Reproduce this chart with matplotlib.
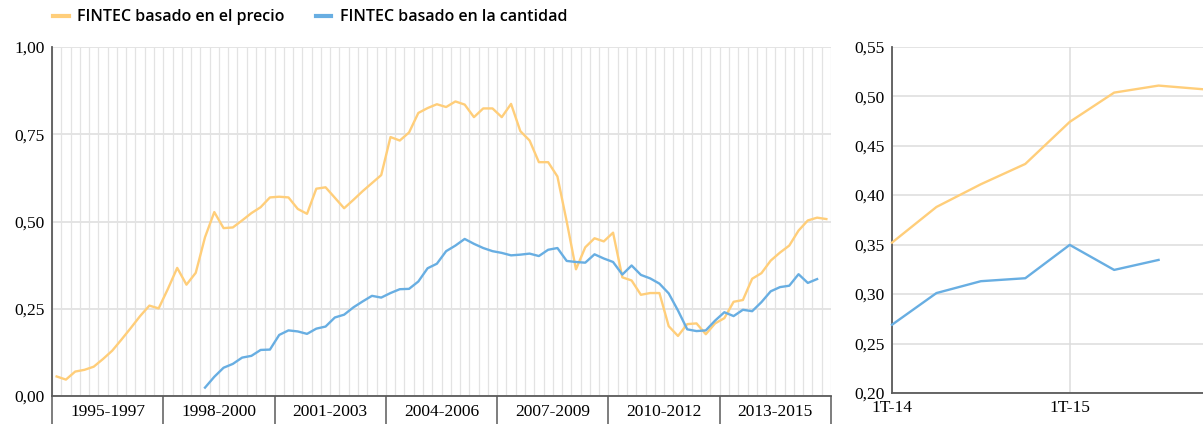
import numpy as np
import matplotlib
matplotlib.use("Agg")
import matplotlib.pyplot as plt
from matplotlib.lines import Line2D

# --- datos (trimestrales, 1T-1995 .. 4T-2015) ---
periodos = ["1995-1997", "1998-2000", "2001-2003", "2004-2006",
            "2007-2009", "2010-2012", "2013-2015"]

precio = [0.056, 0.047, 0.070, 0.075, 0.084, 0.106, 0.130, 0.162, 0.195, 0.229,
          0.259, 0.251, 0.307, 0.367, 0.319, 0.353, 0.455, 0.527, 0.481, 0.483,
          0.503, 0.524, 0.541, 0.569, 0.571, 0.569, 0.536, 0.522, 0.594, 0.598,
          0.568, 0.538, 0.562, 0.587, 0.610, 0.633, 0.742, 0.732, 0.755, 0.811,
          0.825, 0.836, 0.828, 0.844, 0.835, 0.799, 0.824, 0.824, 0.799, 0.837,
          0.759, 0.732, 0.670, 0.670, 0.629, 0.500, 0.363, 0.426, 0.452, 0.443,
          0.468, 0.340, 0.331, 0.290, 0.295, 0.295, 0.200, 0.172, 0.206, 0.208,
          0.177, 0.208, 0.223, 0.270, 0.275, 0.336, 0.352, 0.388, 0.411, 0.431,
          0.474, 0.503, 0.511, 0.507]

# la serie de cantidad empieza en 1T-1999 y termina en 3T-2015
cantidad = [np.nan] * 16 + [
    0.024, 0.055, 0.081, 0.092, 0.110, 0.115, 0.132, 0.133, 0.175, 0.188,
    0.185, 0.178, 0.193, 0.199, 0.225, 0.233, 0.254, 0.271, 0.287, 0.282,
    0.295, 0.306, 0.307, 0.328, 0.366, 0.379, 0.415, 0.431, 0.450, 0.436,
    0.424, 0.415, 0.410, 0.403, 0.405, 0.408, 0.401, 0.419, 0.424, 0.387,
    0.384, 0.382, 0.406, 0.394, 0.384, 0.348, 0.374, 0.347, 0.337, 0.322,
    0.294, 0.245, 0.191, 0.186, 0.188, 0.216, 0.240, 0.229, 0.247, 0.243,
    0.269, 0.300, 0.312, 0.316, 0.349, 0.324, 0.335] + [np.nan]

# detalle 2014-2015
detalle_labels = ["1T-14", "2T-14", "3T-14", "4T-14",
                  "1T-15", "2T-15", "3T-15", "4T-15"]
detalle_precio = [0.352, 0.388, 0.411, 0.4315, 0.474, 0.5036, 0.5107, 0.507]
detalle_cantidad = [0.269, 0.301, 0.313, 0.316, 0.3497, 0.3244, 0.3345, np.nan]

NARANJA = "#FFCE7A"
AZUL = "#68AEE2"
EJE = "#5A5A5A"
REJILLA = "#DCDCDC"
FUENTE_NUM = "Liberation Serif"

fig = plt.figure(figsize=(12.03, 4.26), dpi=100)

# ---------------- grafico principal ----------------
ax = fig.add_axes([52 / 1203, 30 / 426, 779 / 1203, 349 / 426])
x = np.arange(len(precio))
ax.plot(x, precio, color=NARANJA, lw=1.7, zorder=3)
ax.plot(x, cantidad, color=AZUL, lw=1.7, zorder=3)

ax.set_xlim(-0.5, len(precio) - 0.5)
ax.set_ylim(0, 1)

# rejilla vertical en cada trimestre
ax.vlines(np.arange(len(precio) + 1) - 0.5, 0, 1, transform=ax.get_xaxis_transform(),
          color="#E3E3E3", lw=0.9, zorder=1)
ax.set_yticks([0, 0.25, 0.5, 0.75, 1.0])
ax.set_yticklabels(["0,00", "0,25", "0,50", "0,75", "1,00"],
                   fontfamily=FUENTE_NUM, fontsize=12.5)
ax.yaxis.grid(True, color=REJILLA, lw=1.1, zorder=1)
ax.tick_params(axis="y", length=0, pad=5)

# separadores de periodos (ticks largos) y etiquetas centradas
limites = np.arange(0, len(precio) + 1, 12) - 0.5
ax.set_xticks(limites)
ax.set_xticklabels([])
ax.tick_params(axis="x", which="major", length=20, width=1.1, color=EJE, direction="out")
ax.set_xticks(limites[:-1] + 6, minor=True)
ax.set_xticklabels(periodos, minor=True, fontfamily=FUENTE_NUM, fontsize=12.5)
ax.tick_params(axis="x", which="minor", length=0, pad=6)

for lado in ["top", "right"]:
    ax.spines[lado].set_visible(False)
for lado in ["left", "bottom"]:
    ax.spines[lado].set_color(EJE)
    ax.spines[lado].set_linewidth(1.3)
ax.set_axisbelow(True)

# ---------------- detalle 2014-2015 ----------------
ax2 = fig.add_axes([892 / 1203, 33 / 426, 311 / 1203, 346.3 / 426])
x2 = np.arange(len(detalle_precio))
ax2.plot(x2, detalle_precio, color=NARANJA, lw=1.7, zorder=3, clip_on=False)
ax2.plot(x2, detalle_cantidad, color=AZUL, lw=1.7, zorder=3, clip_on=False)
ax2.set_xlim(0, len(detalle_precio) - 1)
ax2.set_ylim(0.20, 0.55)
yt = [0.20, 0.25, 0.30, 0.35, 0.40, 0.45, 0.50, 0.55]
ax2.set_yticks(yt)
ax2.set_yticklabels([f"{v:.2f}".replace(".", ",") for v in yt],
                    fontfamily=FUENTE_NUM, fontsize=12.5)
ax2.set_xticks([0, 4])
ax2.set_xticklabels([detalle_labels[0], detalle_labels[4]],
                    fontfamily=FUENTE_NUM, fontsize=12.5)
ax2.grid(True, color=REJILLA, lw=1.1, zorder=1)
ax2.tick_params(length=0, pad=5)
for lado in ["top", "right"]:
    ax2.spines[lado].set_visible(False)
for lado in ["left", "bottom"]:
    ax2.spines[lado].set_color(EJE)
    ax2.spines[lado].set_linewidth(1.3)
ax2.set_axisbelow(True)

# ---------------- leyenda ----------------
handles = [Line2D([], [], color=NARANJA, lw=3),
           Line2D([], [], color=AZUL, lw=3)]
fig.legend(handles, ["FINTEC basado en el precio", "FINTEC basado en la cantidad"],
           loc="upper left", bbox_to_anchor=(39 / 1203, 1.012), ncol=2, frameon=False,
           handlelength=0.95, handletextpad=0.55, columnspacing=1.95,
           prop={"family": "Open Sans", "weight": "semibold", "size": 11.5})

fig.savefig("out.png", dpi=100)
